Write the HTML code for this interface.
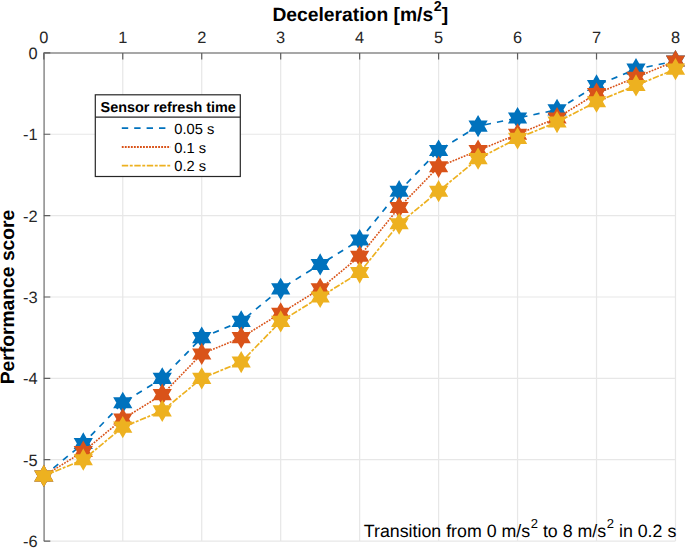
<!DOCTYPE html><html><head><meta charset="utf-8"><style>html,body{margin:0;padding:0;background:#fff;}svg{display:block;}text{font-family:"Liberation Sans",sans-serif;text-rendering:geometricPrecision;}</style></head><body>
<svg width="685" height="548" viewBox="0 0 685 548">
<rect width="685" height="548" fill="#fff"/>
<path d="M122.76,52.90V541.06M201.72,52.90V541.06M280.68,52.90V541.06M359.64,52.90V541.06M438.60,52.90V541.06M517.56,52.90V541.06M596.52,52.90V541.06M675.48,52.90V541.06M43.80,134.26H675.48M43.80,215.62H675.48M43.80,296.98H675.48M43.80,378.34H675.48M43.80,459.70H675.48M43.80,541.06H675.48" stroke="#e7e7e7" stroke-width="1.2" fill="none"/>
<path d="M44.10,541.06V52.90H675.48" stroke="#8a8a8a" stroke-width="1.5" fill="none"/>
<path d="M43.80,52.90v6.5M122.76,52.90v6.5M201.72,52.90v6.5M280.68,52.90v6.5M359.64,52.90v6.5M438.60,52.90v6.5M517.56,52.90v6.5M596.52,52.90v6.5M675.48,52.90v6.5M43.80,52.90h6.5M43.80,134.26h6.5M43.80,215.62h6.5M43.80,296.98h6.5M43.80,378.34h6.5M43.80,459.70h6.5M43.80,541.06h6.5" stroke="#5e5e5e" stroke-width="1.2" fill="none"/>
<text x="43.80" y="43.4" font-size="16.4" text-anchor="middle" fill="#262626">0</text>
<text x="122.76" y="43.4" font-size="16.4" text-anchor="middle" fill="#262626">1</text>
<text x="201.72" y="43.4" font-size="16.4" text-anchor="middle" fill="#262626">2</text>
<text x="280.68" y="43.4" font-size="16.4" text-anchor="middle" fill="#262626">3</text>
<text x="359.64" y="43.4" font-size="16.4" text-anchor="middle" fill="#262626">4</text>
<text x="438.60" y="43.4" font-size="16.4" text-anchor="middle" fill="#262626">5</text>
<text x="517.56" y="43.4" font-size="16.4" text-anchor="middle" fill="#262626">6</text>
<text x="596.52" y="43.4" font-size="16.4" text-anchor="middle" fill="#262626">7</text>
<text x="675.48" y="43.4" font-size="16.4" text-anchor="middle" fill="#262626">8</text>
<text x="37.6" y="59.00" font-size="16.4" text-anchor="end" fill="#262626">0</text>
<text x="37.6" y="140.36" font-size="16.4" text-anchor="end" fill="#262626">-1</text>
<text x="37.6" y="221.72" font-size="16.4" text-anchor="end" fill="#262626">-2</text>
<text x="37.6" y="303.08" font-size="16.4" text-anchor="end" fill="#262626">-3</text>
<text x="37.6" y="384.44" font-size="16.4" text-anchor="end" fill="#262626">-4</text>
<text x="37.6" y="465.80" font-size="16.4" text-anchor="end" fill="#262626">-5</text>
<text x="37.6" y="547.16" font-size="16.4" text-anchor="end" fill="#262626">-6</text>
<text x="360.3" y="20.8" font-size="19.3" font-weight="bold" text-anchor="middle" fill="#000">Deceleration [m/s<tspan font-size="14.3" dx="0.6" dy="-10.2">2</tspan><tspan dx="0" dy="10.2">]</tspan></text>
<text transform="translate(14.4,297) rotate(-90)" x="0" y="0" font-size="19.3" font-weight="bold" text-anchor="middle" fill="#000">Performance score</text>
<path d="M43.80,475.97 L83.28,443.43 L122.76,402.75 L162.24,378.34 L201.72,337.66 L241.20,321.39 L280.68,288.84 L320.16,264.44 L359.64,240.03 L399.12,191.21 L438.60,150.53 L478.08,126.12 L517.56,117.99 L557.04,109.85 L596.52,85.44 L636.00,69.17 L675.48,61.04" stroke="#0072bd" stroke-width="1.7" fill="none" stroke-dasharray="6.3,6.1" stroke-linecap="butt"/>
<path d="M43.80,464.87 L47.00,470.42 L53.41,470.42 L50.21,475.97 L53.41,481.52 L47.00,481.52 L43.80,487.07 L40.60,481.52 L34.19,481.52 L37.39,475.97 L34.19,470.42 L40.60,470.42ZM83.28,432.33 L86.48,437.88 L92.89,437.88 L89.69,443.43 L92.89,448.98 L86.48,448.98 L83.28,454.53 L80.08,448.98 L73.67,448.98 L76.87,443.43 L73.67,437.88 L80.08,437.88ZM122.76,391.65 L125.96,397.20 L132.37,397.20 L129.17,402.75 L132.37,408.30 L125.96,408.30 L122.76,413.85 L119.56,408.30 L113.15,408.30 L116.35,402.75 L113.15,397.20 L119.56,397.20ZM162.24,367.24 L165.44,372.79 L171.85,372.79 L168.65,378.34 L171.85,383.89 L165.44,383.89 L162.24,389.44 L159.04,383.89 L152.63,383.89 L155.83,378.34 L152.63,372.79 L159.04,372.79ZM201.72,326.56 L204.92,332.11 L211.33,332.11 L208.13,337.66 L211.33,343.21 L204.92,343.21 L201.72,348.76 L198.52,343.21 L192.11,343.21 L195.31,337.66 L192.11,332.11 L198.52,332.11ZM241.20,310.29 L244.40,315.84 L250.81,315.84 L247.61,321.39 L250.81,326.94 L244.40,326.94 L241.20,332.49 L238.00,326.94 L231.59,326.94 L234.79,321.39 L231.59,315.84 L238.00,315.84ZM280.68,277.74 L283.88,283.29 L290.29,283.29 L287.09,288.84 L290.29,294.39 L283.88,294.39 L280.68,299.94 L277.48,294.39 L271.07,294.39 L274.27,288.84 L271.07,283.29 L277.48,283.29ZM320.16,253.34 L323.36,258.89 L329.77,258.89 L326.57,264.44 L329.77,269.99 L323.36,269.99 L320.16,275.54 L316.96,269.99 L310.55,269.99 L313.75,264.44 L310.55,258.89 L316.96,258.89ZM359.64,228.93 L362.84,234.48 L369.25,234.48 L366.05,240.03 L369.25,245.58 L362.84,245.58 L359.64,251.13 L356.44,245.58 L350.03,245.58 L353.23,240.03 L350.03,234.48 L356.44,234.48ZM399.12,180.11 L402.32,185.66 L408.73,185.66 L405.53,191.21 L408.73,196.76 L402.32,196.76 L399.12,202.31 L395.92,196.76 L389.51,196.76 L392.71,191.21 L389.51,185.66 L395.92,185.66ZM438.60,139.43 L441.80,144.98 L448.21,144.98 L445.01,150.53 L448.21,156.08 L441.80,156.08 L438.60,161.63 L435.40,156.08 L428.99,156.08 L432.19,150.53 L428.99,144.98 L435.40,144.98ZM478.08,115.02 L481.28,120.57 L487.69,120.57 L484.49,126.12 L487.69,131.67 L481.28,131.67 L478.08,137.22 L474.88,131.67 L468.47,131.67 L471.67,126.12 L468.47,120.57 L474.88,120.57ZM517.56,106.89 L520.76,112.44 L527.17,112.44 L523.97,117.99 L527.17,123.54 L520.76,123.54 L517.56,129.09 L514.36,123.54 L507.95,123.54 L511.15,117.99 L507.95,112.44 L514.36,112.44ZM557.04,98.75 L560.24,104.30 L566.65,104.30 L563.45,109.85 L566.65,115.40 L560.24,115.40 L557.04,120.95 L553.84,115.40 L547.43,115.40 L550.63,109.85 L547.43,104.30 L553.84,104.30ZM596.52,74.34 L599.72,79.89 L606.13,79.89 L602.93,85.44 L606.13,90.99 L599.72,90.99 L596.52,96.54 L593.32,90.99 L586.91,90.99 L590.11,85.44 L586.91,79.89 L593.32,79.89ZM636.00,58.07 L639.20,63.62 L645.61,63.62 L642.41,69.17 L645.61,74.72 L639.20,74.72 L636.00,80.27 L632.80,74.72 L626.39,74.72 L629.59,69.17 L626.39,63.62 L632.80,63.62ZM675.48,49.94 L678.68,55.49 L685.09,55.49 L681.89,61.04 L685.09,66.59 L678.68,66.59 L675.48,72.14 L672.28,66.59 L665.87,66.59 L669.07,61.04 L665.87,55.49 L672.28,55.49Z" fill="#0072bd"/>
<path d="M43.80,475.97 L83.28,451.56 L122.76,419.02 L162.24,394.61 L201.72,353.93 L241.20,337.66 L280.68,313.25 L320.16,288.84 L359.64,256.30 L399.12,207.48 L438.60,166.80 L478.08,150.53 L517.56,134.26 L557.04,117.99 L596.52,93.58 L636.00,77.31 L675.48,61.04" stroke="#d95319" stroke-width="1.6" fill="none" stroke-dasharray="1.8,1.2" stroke-linecap="butt"/>
<path d="M43.80,464.87 L47.00,470.42 L53.41,470.42 L50.21,475.97 L53.41,481.52 L47.00,481.52 L43.80,487.07 L40.60,481.52 L34.19,481.52 L37.39,475.97 L34.19,470.42 L40.60,470.42ZM83.28,440.46 L86.48,446.01 L92.89,446.01 L89.69,451.56 L92.89,457.11 L86.48,457.11 L83.28,462.66 L80.08,457.11 L73.67,457.11 L76.87,451.56 L73.67,446.01 L80.08,446.01ZM122.76,407.92 L125.96,413.47 L132.37,413.47 L129.17,419.02 L132.37,424.57 L125.96,424.57 L122.76,430.12 L119.56,424.57 L113.15,424.57 L116.35,419.02 L113.15,413.47 L119.56,413.47ZM162.24,383.51 L165.44,389.06 L171.85,389.06 L168.65,394.61 L171.85,400.16 L165.44,400.16 L162.24,405.71 L159.04,400.16 L152.63,400.16 L155.83,394.61 L152.63,389.06 L159.04,389.06ZM201.72,342.83 L204.92,348.38 L211.33,348.38 L208.13,353.93 L211.33,359.48 L204.92,359.48 L201.72,365.03 L198.52,359.48 L192.11,359.48 L195.31,353.93 L192.11,348.38 L198.52,348.38ZM241.20,326.56 L244.40,332.11 L250.81,332.11 L247.61,337.66 L250.81,343.21 L244.40,343.21 L241.20,348.76 L238.00,343.21 L231.59,343.21 L234.79,337.66 L231.59,332.11 L238.00,332.11ZM280.68,302.15 L283.88,307.70 L290.29,307.70 L287.09,313.25 L290.29,318.80 L283.88,318.80 L280.68,324.35 L277.48,318.80 L271.07,318.80 L274.27,313.25 L271.07,307.70 L277.48,307.70ZM320.16,277.74 L323.36,283.29 L329.77,283.29 L326.57,288.84 L329.77,294.39 L323.36,294.39 L320.16,299.94 L316.96,294.39 L310.55,294.39 L313.75,288.84 L310.55,283.29 L316.96,283.29ZM359.64,245.20 L362.84,250.75 L369.25,250.75 L366.05,256.30 L369.25,261.85 L362.84,261.85 L359.64,267.40 L356.44,261.85 L350.03,261.85 L353.23,256.30 L350.03,250.75 L356.44,250.75ZM399.12,196.38 L402.32,201.93 L408.73,201.93 L405.53,207.48 L408.73,213.03 L402.32,213.03 L399.12,218.58 L395.92,213.03 L389.51,213.03 L392.71,207.48 L389.51,201.93 L395.92,201.93ZM438.60,155.70 L441.80,161.25 L448.21,161.25 L445.01,166.80 L448.21,172.35 L441.80,172.35 L438.60,177.90 L435.40,172.35 L428.99,172.35 L432.19,166.80 L428.99,161.25 L435.40,161.25ZM478.08,139.43 L481.28,144.98 L487.69,144.98 L484.49,150.53 L487.69,156.08 L481.28,156.08 L478.08,161.63 L474.88,156.08 L468.47,156.08 L471.67,150.53 L468.47,144.98 L474.88,144.98ZM517.56,123.16 L520.76,128.71 L527.17,128.71 L523.97,134.26 L527.17,139.81 L520.76,139.81 L517.56,145.36 L514.36,139.81 L507.95,139.81 L511.15,134.26 L507.95,128.71 L514.36,128.71ZM557.04,106.89 L560.24,112.44 L566.65,112.44 L563.45,117.99 L566.65,123.54 L560.24,123.54 L557.04,129.09 L553.84,123.54 L547.43,123.54 L550.63,117.99 L547.43,112.44 L553.84,112.44ZM596.52,82.48 L599.72,88.03 L606.13,88.03 L602.93,93.58 L606.13,99.13 L599.72,99.13 L596.52,104.68 L593.32,99.13 L586.91,99.13 L590.11,93.58 L586.91,88.03 L593.32,88.03ZM636.00,66.21 L639.20,71.76 L645.61,71.76 L642.41,77.31 L645.61,82.86 L639.20,82.86 L636.00,88.41 L632.80,82.86 L626.39,82.86 L629.59,77.31 L626.39,71.76 L632.80,71.76ZM675.48,49.94 L678.68,55.49 L685.09,55.49 L681.89,61.04 L685.09,66.59 L678.68,66.59 L675.48,72.14 L672.28,66.59 L665.87,66.59 L669.07,61.04 L665.87,55.49 L672.28,55.49Z" fill="#d95319"/>
<path d="M43.80,475.97 L83.28,459.70 L122.76,427.16 L162.24,410.88 L201.72,378.34 L241.20,362.07 L280.68,321.39 L320.16,296.98 L359.64,272.57 L399.12,223.76 L438.60,191.21 L478.08,158.67 L517.56,138.33 L557.04,122.06 L596.52,101.72 L636.00,85.44 L675.48,69.17" stroke="#edb120" stroke-width="1.7" fill="none" stroke-dasharray="6.4,1.6,2.9,1.6" stroke-linecap="butt"/>
<path d="M43.80,464.87 L47.00,470.42 L53.41,470.42 L50.21,475.97 L53.41,481.52 L47.00,481.52 L43.80,487.07 L40.60,481.52 L34.19,481.52 L37.39,475.97 L34.19,470.42 L40.60,470.42ZM83.28,448.60 L86.48,454.15 L92.89,454.15 L89.69,459.70 L92.89,465.25 L86.48,465.25 L83.28,470.80 L80.08,465.25 L73.67,465.25 L76.87,459.70 L73.67,454.15 L80.08,454.15ZM122.76,416.06 L125.96,421.61 L132.37,421.61 L129.17,427.16 L132.37,432.71 L125.96,432.71 L122.76,438.26 L119.56,432.71 L113.15,432.71 L116.35,427.16 L113.15,421.61 L119.56,421.61ZM162.24,399.78 L165.44,405.33 L171.85,405.33 L168.65,410.88 L171.85,416.43 L165.44,416.43 L162.24,421.98 L159.04,416.43 L152.63,416.43 L155.83,410.88 L152.63,405.33 L159.04,405.33ZM201.72,367.24 L204.92,372.79 L211.33,372.79 L208.13,378.34 L211.33,383.89 L204.92,383.89 L201.72,389.44 L198.52,383.89 L192.11,383.89 L195.31,378.34 L192.11,372.79 L198.52,372.79ZM241.20,350.97 L244.40,356.52 L250.81,356.52 L247.61,362.07 L250.81,367.62 L244.40,367.62 L241.20,373.17 L238.00,367.62 L231.59,367.62 L234.79,362.07 L231.59,356.52 L238.00,356.52ZM280.68,310.29 L283.88,315.84 L290.29,315.84 L287.09,321.39 L290.29,326.94 L283.88,326.94 L280.68,332.49 L277.48,326.94 L271.07,326.94 L274.27,321.39 L271.07,315.84 L277.48,315.84ZM320.16,285.88 L323.36,291.43 L329.77,291.43 L326.57,296.98 L329.77,302.53 L323.36,302.53 L320.16,308.08 L316.96,302.53 L310.55,302.53 L313.75,296.98 L310.55,291.43 L316.96,291.43ZM359.64,261.47 L362.84,267.02 L369.25,267.02 L366.05,272.57 L369.25,278.12 L362.84,278.12 L359.64,283.67 L356.44,278.12 L350.03,278.12 L353.23,272.57 L350.03,267.02 L356.44,267.02ZM399.12,212.66 L402.32,218.21 L408.73,218.21 L405.53,223.76 L408.73,229.31 L402.32,229.31 L399.12,234.86 L395.92,229.31 L389.51,229.31 L392.71,223.76 L389.51,218.21 L395.92,218.21ZM438.60,180.11 L441.80,185.66 L448.21,185.66 L445.01,191.21 L448.21,196.76 L441.80,196.76 L438.60,202.31 L435.40,196.76 L428.99,196.76 L432.19,191.21 L428.99,185.66 L435.40,185.66ZM478.08,147.57 L481.28,153.12 L487.69,153.12 L484.49,158.67 L487.69,164.22 L481.28,164.22 L478.08,169.77 L474.88,164.22 L468.47,164.22 L471.67,158.67 L468.47,153.12 L474.88,153.12ZM517.56,127.23 L520.76,132.78 L527.17,132.78 L523.97,138.33 L527.17,143.88 L520.76,143.88 L517.56,149.43 L514.36,143.88 L507.95,143.88 L511.15,138.33 L507.95,132.78 L514.36,132.78ZM557.04,110.96 L560.24,116.51 L566.65,116.51 L563.45,122.06 L566.65,127.61 L560.24,127.61 L557.04,133.16 L553.84,127.61 L547.43,127.61 L550.63,122.06 L547.43,116.51 L553.84,116.51ZM596.52,90.62 L599.72,96.17 L606.13,96.17 L602.93,101.72 L606.13,107.27 L599.72,107.27 L596.52,112.82 L593.32,107.27 L586.91,107.27 L590.11,101.72 L586.91,96.17 L593.32,96.17ZM636.00,74.34 L639.20,79.89 L645.61,79.89 L642.41,85.44 L645.61,90.99 L639.20,90.99 L636.00,96.54 L632.80,90.99 L626.39,90.99 L629.59,85.44 L626.39,79.89 L632.80,79.89ZM675.48,58.07 L678.68,63.62 L685.09,63.62 L681.89,69.17 L685.09,74.72 L678.68,74.72 L675.48,80.27 L672.28,74.72 L665.87,74.72 L669.07,69.17 L665.87,63.62 L672.28,63.62Z" fill="#edb120"/>
<rect x="95.3" y="94.8" width="145" height="81.7" fill="#fff" stroke="#262626" stroke-width="1.2"/>
<path d="M95.3,117.2H240.3" stroke="#262626" stroke-width="1.2"/>
<text x="100.6" y="111.5" font-size="14.4" font-weight="bold" fill="#000">Sensor refresh time</text>
<path d="M121.8,128.1H170" stroke="#0072bd" stroke-width="1.7" stroke-dasharray="6.4,6"/>
<path d="M121.8,147H170.4" stroke="#d95319" stroke-width="1.8" stroke-dasharray="1.85,1.18"/>
<path d="M121.8,165.7H170.4" stroke="#edb120" stroke-width="1.7" stroke-dasharray="6.4,1.6,2.9,1.6"/>
<text x="174.3" y="134" font-size="14.7" fill="#000">0.05 s</text>
<text x="174.3" y="152.7" font-size="14.7" fill="#000">0.1 s</text>
<text x="174.3" y="170.8" font-size="14.7" fill="#000">0.2 s</text>
<text x="676.3" y="537" font-size="17.8" text-anchor="end" fill="#000">Transition from 0 m/s<tspan font-size="13" dx="0.6" dy="-9">2</tspan><tspan dy="9"> to 8 m/s</tspan><tspan font-size="13" dx="0.6" dy="-9">2</tspan><tspan dy="9"> in 0.2 s</tspan></text>
</svg></body></html>
